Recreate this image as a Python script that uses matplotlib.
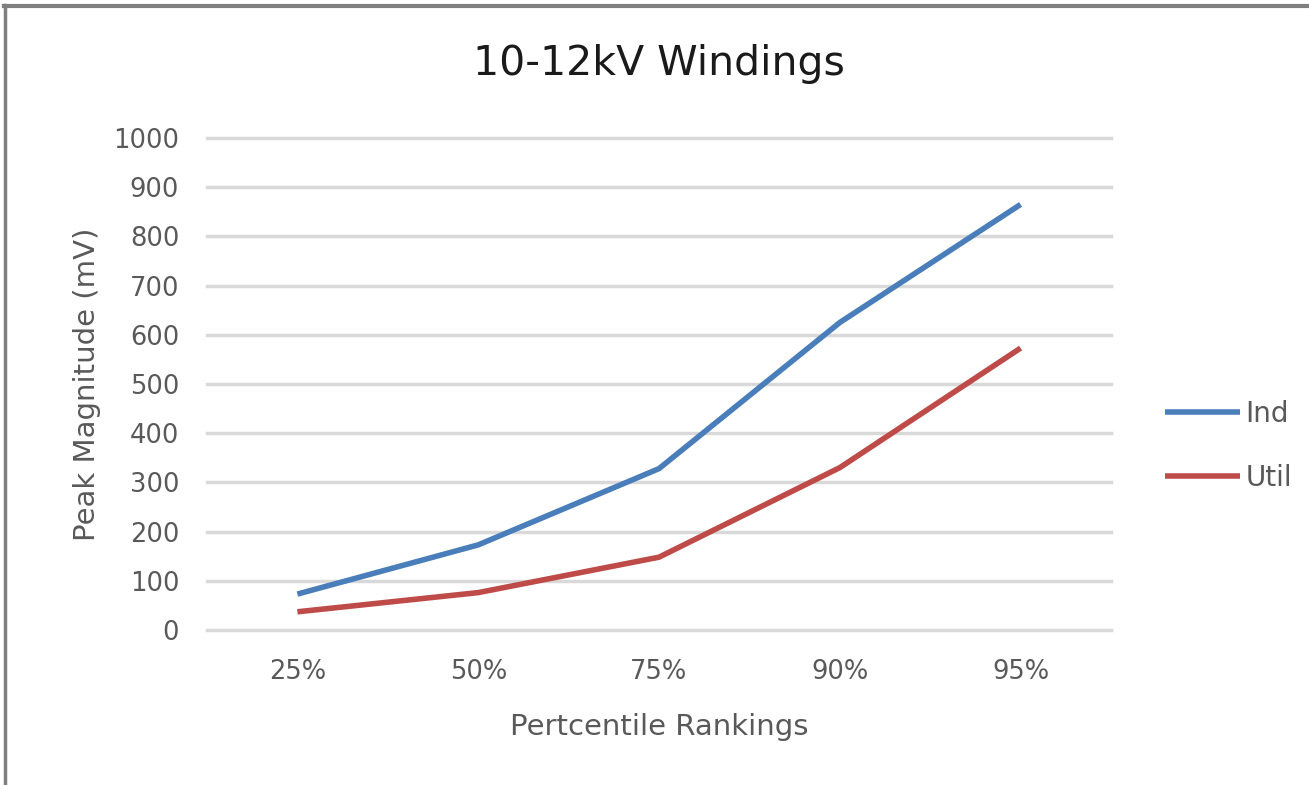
import numpy as np
import matplotlib.pyplot as plt
from matplotlib.lines import Line2D

categories = ['25%', '50%', '75%', '90%', '95%']
ind = [73, 173, 328, 625, 865]
util = [37, 76, 148, 330, 573]
yticks = [0, 100, 200, 300, 400, 500, 600, 700, 800, 900, 1000]

text_col = '#595959'

fig = plt.figure(figsize=(13.09, 7.85), dpi=100)
ax = fig.add_axes([207 / 1309, 1 - 630 / 785, (1111 - 207) / 1309, (630 - 138) / 785])

x = np.arange(len(categories))
ax.plot(x, ind, color='#4a7ebb', lw=4, solid_capstyle='butt', label='Ind')
ax.plot(x, util, color='#be4b48', lw=4, solid_capstyle='butt', label='Util')

ax.set_xlim(-0.5, len(categories) - 0.5)
ax.set_ylim(0, 1000)
ax.set_xticks(x)
ax.set_xticklabels(categories)
ax.set_yticks(yticks)
ax.set_yticklabels([str(v) for v in yticks])
ax.tick_params(length=0, labelsize=18.5, colors=text_col)
ax.tick_params(axis='y', pad=20)
ax.tick_params(axis='x', pad=21)
ax.grid(axis='y', color='#d9d9d9', lw=2.5)
for gl in ax.get_ygridlines():
    gl.set_clip_on(False)
ax.set_axisbelow(True)
for s in ax.spines.values():
    s.set_visible(False)

ax.set_title('10-12kV Windings', fontsize=29.5, color='#1a1a1a', pad=45)
ax.set_ylabel('Peak Magnitude (mV)', fontsize=21, color=text_col, labelpad=9)
ax.set_xlabel('Pertcentile Rankings', fontsize=21, color=text_col, labelpad=20)

ax.legend(loc='center left', bbox_to_anchor=(1165 / 1309, 1 - 446 / 785),
          bbox_transform=fig.transFigure, frameon=False, borderaxespad=0,
          fontsize=20, labelcolor=text_col, handlelength=2.7, labelspacing=1.3,
          handletextpad=0.2, borderpad=0)

# chart frame (top and left edges visible)
fig.add_artist(Line2D([5 / 1309, 5 / 1309], [0, 1 - 5 / 785], color='#7f7f7f', lw=2.5))
fig.add_artist(Line2D([4 / 1309, 1], [1 - 6 / 785, 1 - 6 / 785], color='#7f7f7f', lw=3))

fig.savefig('out.png', dpi=100)
